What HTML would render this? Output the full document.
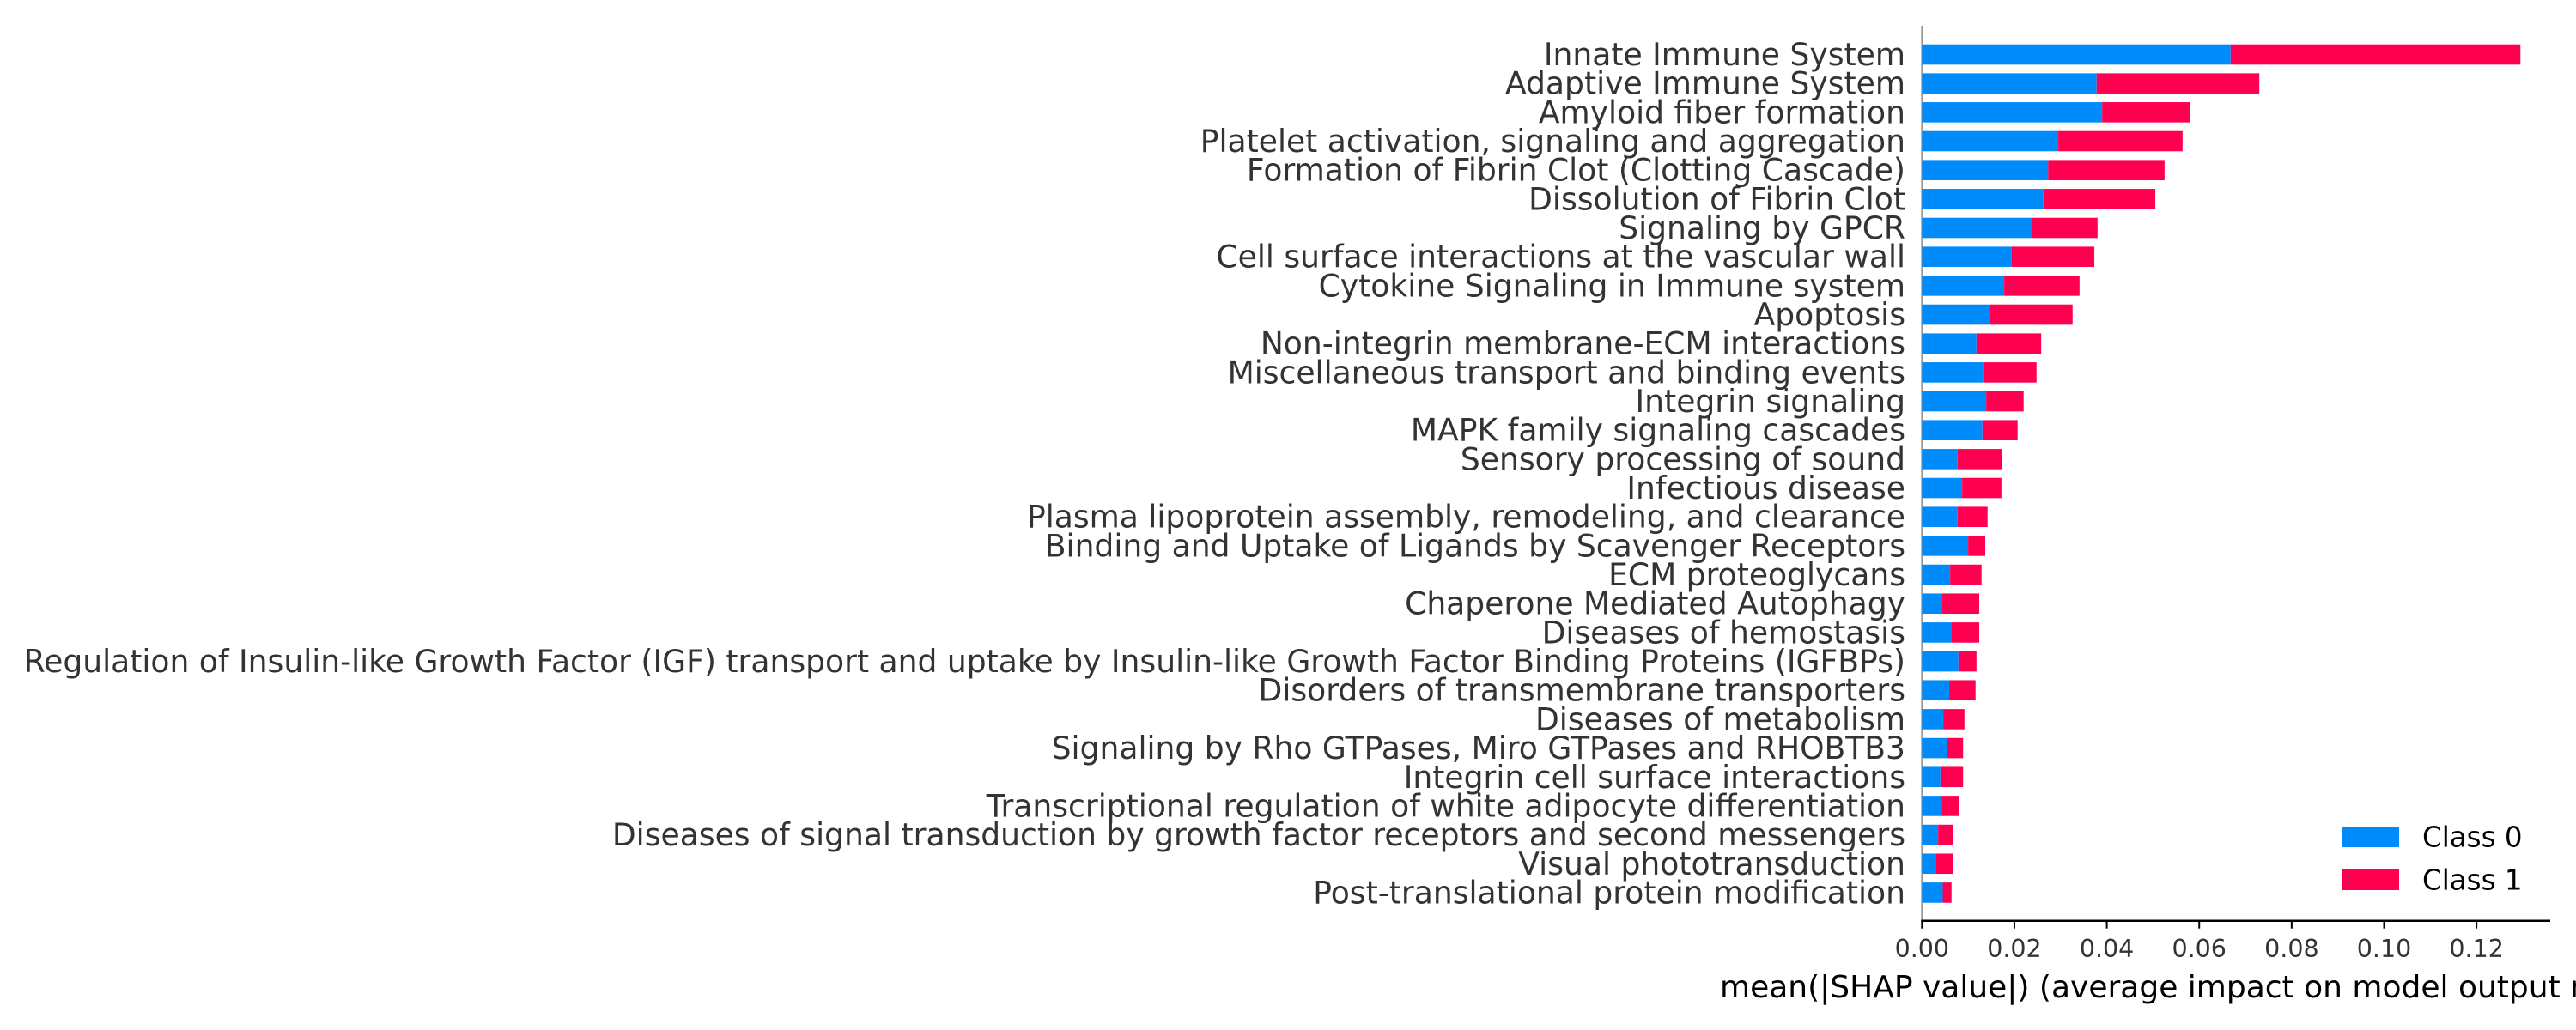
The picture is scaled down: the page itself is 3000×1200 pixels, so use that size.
<!DOCTYPE html>
<html><head><meta charset="utf-8"><style>
html,body{margin:0;padding:0;background:#fff;}
svg{display:block;}
text{font-family:"DejaVu Sans","Liberation Sans",sans-serif;}
</style></head><body>
<svg id="chart" width="3000" height="1200" viewBox="0 0 3000 1200" xmlns="http://www.w3.org/2000/svg"></svg>
<script>
const categories = ["Innate Immune System","Adaptive Immune System","Amyloid fiber formation","Platelet activation, signaling and aggregation","Formation of Fibrin Clot (Clotting Cascade)","Dissolution of Fibrin Clot","Signaling by GPCR","Cell surface interactions at the vascular wall","Cytokine Signaling in Immune system","Apoptosis","Non-integrin membrane-ECM interactions","Miscellaneous transport and binding events","Integrin signaling","MAPK family signaling cascades","Sensory processing of sound","Infectious disease","Plasma lipoprotein assembly, remodeling, and clearance","Binding and Uptake of Ligands by Scavenger Receptors","ECM proteoglycans","Chaperone Mediated Autophagy","Diseases of hemostasis","Regulation of Insulin-like Growth Factor (IGF) transport and uptake by Insulin-like Growth Factor Binding Proteins (IGFBPs)","Disorders of transmembrane transporters","Diseases of metabolism","Signaling by Rho GTPases, Miro GTPases and RHOBTB3","Integrin cell surface interactions","Transcriptional regulation of white adipocyte differentiation","Diseases of signal transduction by growth factor receptors and second messengers","Visual phototransduction","Post-translational protein modification"];
const class0 = [0.0668,0.0378,0.0390,0.0295,0.0273,0.0263,0.0239,0.0194,0.0178,0.0148,0.0118,0.0133,0.0139,0.0131,0.0077,0.0087,0.0077,0.0100,0.0061,0.0044,0.0063,0.0079,0.0059,0.0046,0.0055,0.0040,0.0043,0.0035,0.0031,0.0045];
const class1 = [0.0627,0.0352,0.0191,0.0269,0.0252,0.0242,0.0141,0.0179,0.0163,0.0178,0.0140,0.0115,0.0081,0.0076,0.0097,0.0085,0.0065,0.0037,0.0068,0.0080,0.0061,0.0039,0.0057,0.0046,0.0034,0.0049,0.0038,0.0033,0.0037,0.0019];
const tickValues = [0,0.02,0.04,0.06,0.08,0.10,0.12];
const tickLabels = ["0.00","0.02","0.04","0.06","0.08","0.10","0.12"];
const legendLabels = ["Class 0","Class 1"];

const NS="http://www.w3.org/2000/svg";
const svg=document.getElementById('chart');
const X0=2238.3, PXU=5382, Y0=63.5, STEP=33.67, BH=23.6, AXY=1072.7;
const xs=v=>X0+v*PXU;
const ys=i=>Y0+i*STEP;
const C0="#008bfb", C1="#ff0051";
function mk(tag,attrs){const e=document.createElementNS(NS,tag);for(const k in attrs)e.setAttribute(k,attrs[k]);svg.appendChild(e);return e;}

let sp=mk('line',{x1:X0,y1:30,x2:X0,y2:AXY,stroke:'#999',"stroke-width":2});



categories.forEach((c,i)=>{
  const y=ys(i);
  const b0=mk('rect',{x:xs(0),y:y-BH/2,width:xs(class0[i])-xs(0),height:BH,fill:C0});
  
  
  const b1=mk('rect',{x:xs(class0[i]),y:y-BH/2,width:xs(class0[i]+class1[i])-xs(class0[i]),height:BH,fill:C1});
  
  
  const t=mk('text',{x:2219,y:y+12.5,"text-anchor":"end","font-size":36.1,fill:'#333'});
  t.textContent=c;
  
  
});

let ax=mk('line',{x1:X0-1,y1:AXY,x2:2970,y2:AXY,stroke:'#000',"stroke-width":2.5});


tickValues.forEach((v,i)=>{
  const tk=mk('line',{x1:xs(v),y1:AXY,x2:xs(v),y2:AXY+9,stroke:'#000',"stroke-width":2});
  
  
  const tl=mk('text',{x:xs(v),y:1115,"text-anchor":"middle","font-size":28.5,fill:'#333'});
  tl.textContent=tickLabels[i];
  
  
});
let title=mk('text',{x:2003,y:1162,"font-size":36,fill:'#000'});
title.textContent="mean(|SHAP value|) (average impact on model output magnitude)";



[C0,C1].forEach((col,i)=>{
  const y=975+i*50;
  const r=mk('rect',{x:2727,y:y-12,width:67,height:24,fill:col});
  
  
  const t=mk('text',{x:2821,y:y+11.5,"font-size":32.5,fill:'#000'});
  t.textContent=legendLabels[i];
  
  
});
</script>
</body></html>
